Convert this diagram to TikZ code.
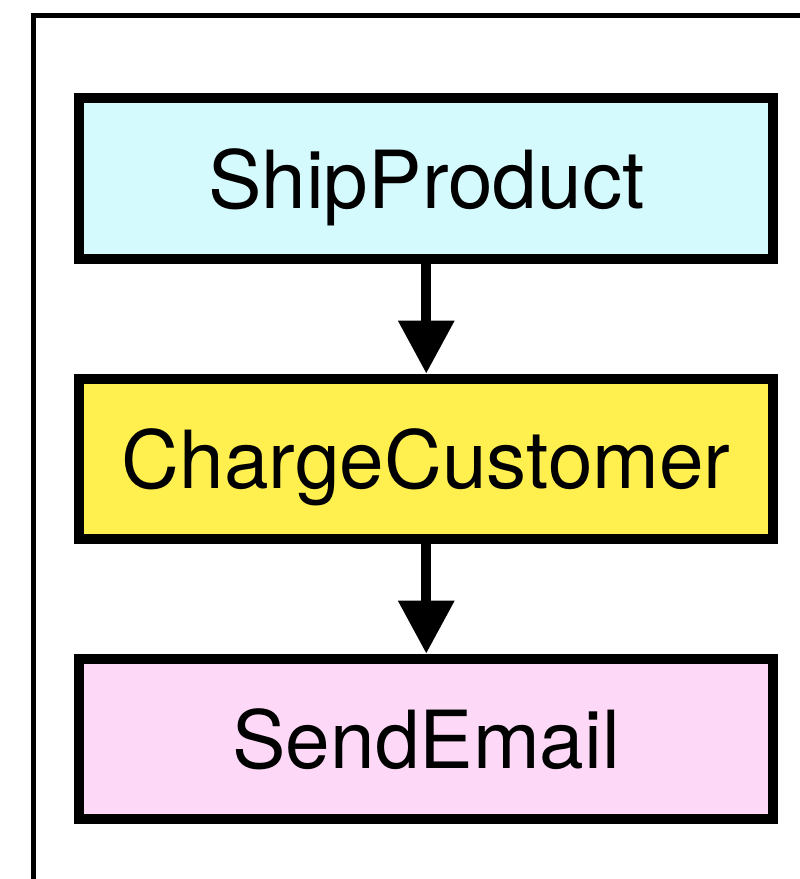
\documentclass[tikz,border=0pt]{standalone}
\usepackage{fontspec}
\setmainfont{TeX Gyre Heros}
\usetikzlibrary{positioning,arrows.meta}
\definecolor{shipcyan}{RGB}{213,250,253}
\definecolor{chargeyellow}{RGB}{255,240,80}
\definecolor{emailpink}{RGB}{253,216,247}
\begin{document}
\begin{tikzpicture}[x=0.025cm,y=-0.025cm,node distance=2.75cm,
  task/.style={draw,line width=0.25cm,minimum width=17.34cm,minimum height=4cm,
    inner sep=0pt,text height=1.5cm,text depth=0pt,font=\fontsize{57}{60}\selectfont},
  flow/.style={line width=0.25cm,-{Triangle[length=1.325cm,width=1.35cm]}}]
 \clip (0,0) rectangle (800,879);
 \draw[line width=0.1125cm] (33.5,15.5) rectangle (900,1000);
 \node[task,fill=shipcyan] (ship) at (426.25,178.5) {ShipProduct};
 \node[task,fill=chargeyellow,below=of ship] (charge) {ChargeCustomer};
 \node[task,fill=emailpink,below=of charge] (email) {SendEmail};
 \draw[flow] (ship) -- (charge);
 \draw[flow] (charge) -- (email);
\end{tikzpicture}
\end{document}
